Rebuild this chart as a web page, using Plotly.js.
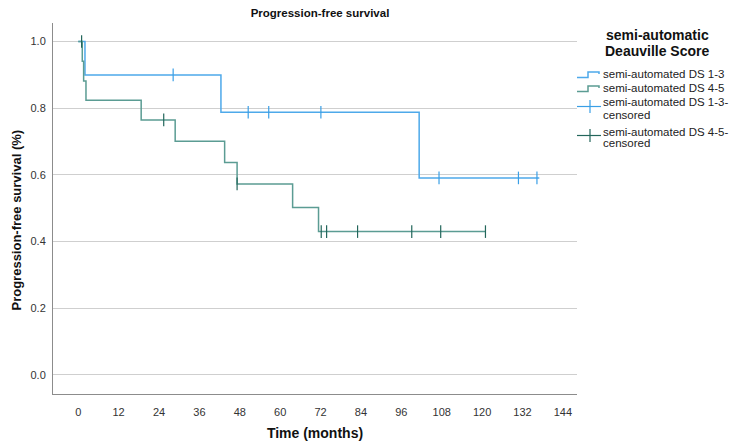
<!DOCTYPE html>
<html>
<head>
<meta charset="utf-8">
<script src="https://cdn.plot.ly/plotly-3.0.1.min.js"></script>
<style>html,body{margin:0;padding:0;background:#fff;}#chart{width:736px;height:444px;}</style>
</head>
<body>
<div id="chart"></div>
<script>
// ---- data ----
const ds13Time = [0, 2.0, 42.4, 101.3, 137.0];
const ds13Surv = [1.0, 0.9, 0.788, 0.591, 0.591];
const ds13CensTime = [28.2, 50.5, 56.6, 72.1, 107.2, 130.8, 136.3];
const ds13CensSurv = [0.9, 0.788, 0.788, 0.788, 0.591, 0.591, 0.591];

const ds45Time = [0, 1.2, 1.6, 2.3, 18.7, 28.8, 43.5, 47.2, 63.7, 71.4, 121.0];
const ds45Surv = [1.0, 0.941, 0.882, 0.824, 0.765, 0.701, 0.637, 0.573, 0.502, 0.430, 0.430];
const ds45CensTime = [1.0, 25.4, 47.2, 72.2, 73.8, 83.0, 99.1, 107.7, 121.0];
const ds45CensSurv = [1.0, 0.765, 0.573, 0.430, 0.430, 0.430, 0.430, 0.430, 0.430];

const xTicks = [0, 12, 24, 36, 48, 60, 72, 84, 96, 108, 120, 132, 144];
const yTicks = [0.0, 0.2, 0.4, 0.6, 0.8, 1.0];
const yTickText = ['0.0', '0.2', '0.4', '0.6', '0.8', '1.0'];
const legendTitle = ['semi-automatic', 'Deauville Score'];
const legendLabels = ['semi-automated DS 1-3', 'semi-automated DS 4-5',
  ['semi-automated DS 1-3-', 'censored'], ['semi-automated DS 4-5-', 'censored']];

// ---- styling ----
const FONT = 'Liberation Sans, Arial, sans-serif';
const BLUE = '#4ea9ea';
const GREEN = '#5b9c93';
const BLUE_C = '#3a9fe6';
const GREEN_C = '#23665b';

const W = 736, H = 444, L = 53, R = 577, T = 23, B = 394;
const px = x => (x - L) / (R - L);
const py = y => (B - y) / (B - T);

const traces = [
  {x: ds13Time, y: ds13Surv, mode: 'lines', line: {shape: 'hv', color: BLUE, width: 1.5}, hoverinfo: 'skip', showlegend: false},
  {x: ds45Time, y: ds45Surv, mode: 'lines', line: {shape: 'hv', color: GREEN, width: 1.5}, hoverinfo: 'skip', showlegend: false},
  {x: ds13CensTime, y: ds13CensSurv, mode: 'markers', marker: {symbol: 'line-ns-open', size: 9, color: BLUE_C, line: {color: BLUE_C, width: 1.2}}, showlegend: false},
  {x: ds45CensTime, y: ds45CensSurv, mode: 'markers', marker: {symbol: 'line-ns-open', size: 9, color: GREEN_C, line: {color: GREEN_C, width: 1.2}}, showlegend: false}
];

// legend drawn manually
const shapes = [];
function pathPx(pts) {
  return 'M' + pts.map(p => px(p[0]) + ',' + py(p[1])).join(' L');
}
const itemY = [74, 88, 102, 114.5, 132, 143];
shapes.push({type: 'path', xref: 'paper', yref: 'paper', path: pathPx([[577, itemY[0] + 3.5], [588, itemY[0] + 3.5], [588, itemY[0] - 2], [599, itemY[0] - 2], [599, itemY[0]]]), line: {color: BLUE, width: 1.5}});
shapes.push({type: 'path', xref: 'paper', yref: 'paper', path: pathPx([[577, itemY[1] + 3.5], [588, itemY[1] + 3.5], [588, itemY[1] - 2], [599, itemY[1] - 2], [599, itemY[1]]]), line: {color: GREEN, width: 1.5}});
shapes.push({type: 'line', xref: 'paper', yref: 'paper', x0: px(577), x1: px(601), y0: py(106.5), y1: py(106.5), line: {color: BLUE_C, width: 1.2}});
shapes.push({type: 'line', xref: 'paper', yref: 'paper', x0: px(590), x1: px(590), y0: py(100), y1: py(113), line: {color: BLUE_C, width: 1.2}});
shapes.push({type: 'line', xref: 'paper', yref: 'paper', x0: px(577), x1: px(601), y0: py(135.5), y1: py(135.5), line: {color: GREEN_C, width: 1.2}});
shapes.push({type: 'line', xref: 'paper', yref: 'paper', x0: px(590), x1: px(590), y0: py(129), y1: py(142), line: {color: GREEN_C, width: 1.2}});

const annotations = [];
function txt(text, x, y, opts) {
  annotations.push(Object.assign({text: text, xref: 'paper', yref: 'paper', x: px(x), y: py(y),
    xanchor: 'left', yanchor: 'middle', showarrow: false, borderpad: 0,
    font: {family: FONT, size: 11.5, color: '#222'}}, opts || {}));
}
txt(legendTitle[0], 657, 35, {xanchor: 'center', font: {family: FONT, size: 14, color: '#111', weight: 'bold'}});
txt(legendTitle[1], 657, 51.5, {xanchor: 'center', font: {family: FONT, size: 14, color: '#111', weight: 'bold'}});
txt(legendLabels[0], 602, itemY[0]);
txt(legendLabels[1], 602, itemY[1]);
txt(legendLabels[2][0], 602, itemY[2]);
txt(legendLabels[2][1], 602, itemY[3]);
txt(legendLabels[3][0], 602, itemY[4]);
txt(legendLabels[3][1], 602, itemY[5]);
// y-axis title
txt('<b>Progression-free survival (%)</b>', 15.5, 220, {xanchor: 'center', textangle: -90, font: {family: FONT, size: 13, color: '#111'}});

const layout = {
  width: W, height: H,
  margin: {l: L, r: W - R, t: T, b: H - B, pad: 0},
  paper_bgcolor: '#fff', plot_bgcolor: '#fff',
  font: {family: FONT, color: '#222'},
  title: {text: '<b>Progression-free survival</b>', font: {family: FONT, size: 11.5, color: '#111'},
    x: px(320), xref: 'paper', xanchor: 'center', y: 1 - 13 / H, yref: 'container', yanchor: 'middle'},
  xaxis: {range: [-7.5, 148.2], tickvals: xTicks, ticktext: xTicks.map(String), showgrid: false, zeroline: false,
    showline: true, linecolor: '#8c8c8c', linewidth: 1, ticks: 'outside', ticklen: 8, tickcolor: 'rgba(0,0,0,0)',
    tickfont: {family: FONT, size: 11, color: '#333'},
    title: {text: '<b>Time (months)</b>', font: {family: FONT, size: 14, color: '#111'}, standoff: 10}},
  yaxis: {range: [-0.057, 1.0556], tickvals: yTicks, ticktext: yTickText, showgrid: true, gridcolor: '#cfcfcf', gridwidth: 1,
    zeroline: false, showline: true, linecolor: '#8c8c8c', linewidth: 1, ticks: 'outside', ticklen: 4, tickcolor: 'rgba(0,0,0,0)',
    tickfont: {family: FONT, size: 11, color: '#333'}},
  showlegend: false,
  shapes: shapes,
  annotations: annotations
};

Plotly.newPlot('chart', traces, layout, {staticPlot: true, displayModeBar: false});
</script>
</body>
</html>
